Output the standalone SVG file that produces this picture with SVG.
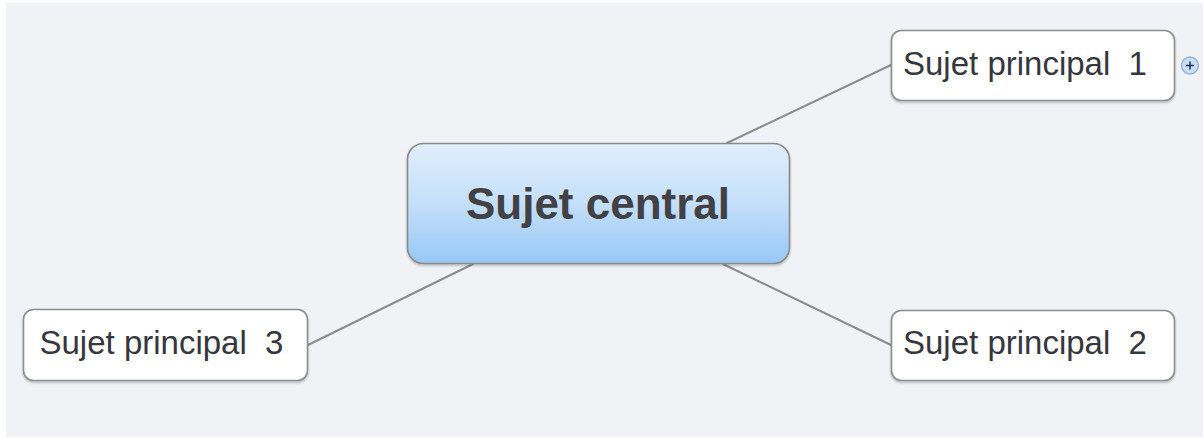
<svg xmlns="http://www.w3.org/2000/svg" width="1203" height="438" viewBox="0 0 1203 438">
  <defs>
    <linearGradient id="centralFill" x1="0" y1="0" x2="0" y2="1">
      <stop offset="0" stop-color="#e1eefc"/>
      <stop offset="0.5" stop-color="#c4dff9"/>
      <stop offset="1" stop-color="#97c8f5"/>
    </linearGradient>
    <filter id="shadow" x="-10%" y="-10%" width="120%" height="130%">
      <feDropShadow dx="0" dy="1.5" stdDeviation="1.2" flood-color="#000" flood-opacity="0.25"/>
    </filter>
  </defs>
  <style>
    .topic { fill: #ffffff; stroke: #8e8e8e; stroke-width: 1.6; }
    .central { fill: url(#centralFill); stroke: #8a8a8a; stroke-width: 1.6; }
    .label { font-family: "Liberation Sans", Arial, sans-serif; font-size: 33px; fill: #36363e; }
    .clabel { font-family: "Liberation Sans", Arial, sans-serif; font-size: 44px; font-weight: bold; fill: #414146; }
    .conn { stroke: #8c8c8c; stroke-width: 2; fill: none; stroke-linecap: round; }
  </style>
  <rect x="0" y="0" width="1203" height="438" fill="#ffffff"/>
  <rect x="6" y="3" width="1197" height="434" fill="#f1f2f6"/>

  <g id="connectors">
    <line class="conn" x1="727" y1="143" x2="891" y2="65"/>
    <line class="conn" x1="723" y1="264" x2="891" y2="345"/>
    <line class="conn" x1="473" y1="264" x2="308" y2="345"/>
  </g>

  <g id="central-topic">
    <rect class="central" x="407.5" y="143.5" width="382" height="120" rx="16" ry="16" filter="url(#shadow)"/>
    <text class="clabel" x="598" y="218.5" text-anchor="middle">Sujet central</text>
  </g>

  <g id="topic-1">
    <rect class="topic" x="891.5" y="30.5" width="283" height="70" rx="10" ry="10" filter="url(#shadow)"/>
    <text class="label" x="903" y="74.5" xml:space="preserve">Sujet principal  1</text>
    <g id="topic-1-expand">
      <circle cx="1190" cy="65.5" r="8.5" fill="#c9ddf3" stroke="#93b4db" stroke-width="1.4"/>
      <line x1="1186" y1="65.5" x2="1194" y2="65.5" stroke="#1f2f55" stroke-width="1.5"/>
      <line x1="1190" y1="61.5" x2="1190" y2="69.5" stroke="#1f2f55" stroke-width="1.5"/>
    </g>
  </g>

  <g id="topic-2">
    <rect class="topic" x="891.5" y="310.5" width="283" height="70" rx="10" ry="10" filter="url(#shadow)"/>
    <text class="label" x="903" y="353.5" xml:space="preserve">Sujet principal  2</text>
  </g>

  <g id="topic-3">
    <rect class="topic" x="23.5" y="309.5" width="284" height="71" rx="10" ry="10" filter="url(#shadow)"/>
    <text class="label" x="39.5" y="353.5" xml:space="preserve">Sujet principal  3</text>
  </g>
</svg>
